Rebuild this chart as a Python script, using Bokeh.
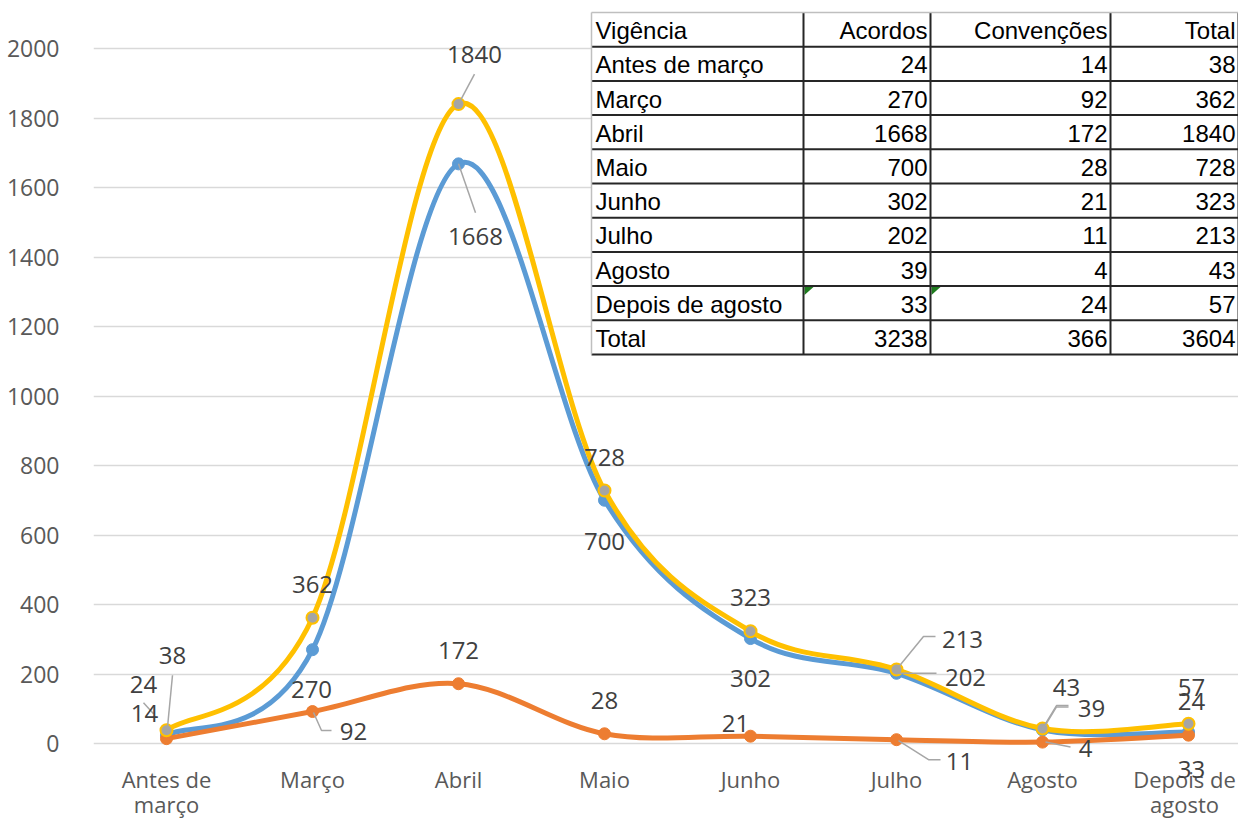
from bokeh.plotting import figure
from bokeh.models import Range1d, FixedTicker
from bokeh.core.properties import value
from bokeh.embed import file_html
from bokeh.resources import INLINE

# ---------------- data ----------------
categories = ["Antes de março", "Março", "Abril", "Maio", "Junho", "Julho", "Agosto", "Depois de agosto"]
tick_labels = ["Antes de\nmarço", "Março", "Abril", "Maio", "Junho", "Julho", "Agosto", "Depois de\nagosto"]
acordos = [24, 270, 1668, 700, 302, 202, 39, 33]
convencoes = [14, 92, 172, 28, 21, 11, 4, 24]
total = [38, 362, 1840, 728, 323, 213, 43, 57]
y_ticks = [0, 200, 400, 600, 800, 1000, 1200, 1400, 1600, 1800, 2000]
table_header = ["Vigência", "Acordos", "Convenções", "Total"]
table_total_label = "Total"

# ---------------- layout / style ----------------
OX, OY = 2, 0           # screen position of the figure's top-left corner
W, H = 1238, 820
Y0PX = 743              # screen y of value 0
Y2000PX = 48            # screen y of value 2000
K = (Y0PX - Y2000PX) / 2000.0
X0PX = 95               # screen x of frame left
SP = 146                # px between categories
FONT = value("Open Sans")
TFONT = value("Liberation Sans")
C_BLUE, C_ORANGE, C_YELLOW, C_GRAY = "#5B9BD5", "#ED7D31", "#FFC000", "#A5A5A5"


def xd(px):
    return -0.5 + (px - X0PX) / SP


def yd(py):
    return (Y0PX - py) / K


p = figure(width=W, height=H, output_backend="svg", toolbar_location=None,
           x_range=Range1d(xd(X0PX), xd(OX + W)), y_range=Range1d(yd(OY + H), yd(OY)),
           x_axis_location=None, min_border_left=X0PX - OX, min_border_right=0,
           min_border_top=0, min_border_bottom=0)
p.outline_line_color = None
p.background_fill_color = "white"
p.border_fill_color = "white"
p.xgrid.visible = False
p.ygrid.ticker = FixedTicker(ticks=y_ticks)
p.ygrid.grid_line_color = "#D9D9D9"
p.ygrid.grid_line_width = 1.5
ax = p.yaxis[0]
ax.ticker = FixedTicker(ticks=y_ticks)
ax.axis_line_color = None
ax.major_tick_line_color = None
ax.minor_tick_line_color = None
ax.major_label_standoff = 28
ax.major_label_text_font = "Open Sans"
ax.major_label_text_font_size = "23px"
ax.major_label_text_color = "#595959"

# x category labels (drawn inside the frame)
xs_idx = list(range(len(categories)))
label_nudge = [0, 0, 0, 0, 0, 0, 0, -4]
p.text(x=[i + n / SP for i, n in zip(xs_idx, label_nudge)], y=[yd(763)] * len(xs_idx),
       text=tick_labels, text_align="center", text_baseline="top", text_font=FONT,
       text_font_size="22px", text_color="#595959", text_line_height=0.85)


# ---------------- smoothed lines ----------------
def smooth(vals, color):
    n = len(vals)
    x0, y0, x1, y1, cx0, cy0, cx1, cy1 = [], [], [], [], [], [], [], []
    for i in range(n - 1):
        im1 = max(i - 1, 0)
        ip2 = min(i + 2, n - 1)
        x0.append(i); y0.append(vals[i])
        x1.append(i + 1); y1.append(vals[i + 1])
        cx0.append(i + (i + 1 - im1) / 6); cy0.append(vals[i] + (vals[i + 1] - vals[im1]) / 6)
        cx1.append(i + 1 - (ip2 - i) / 6); cy1.append(vals[i + 1] - (vals[ip2] - vals[i]) / 6)
    p.bezier(x0=x0, y0=y0, x1=x1, y1=y1, cx0=cx0, cy0=cy0, cx1=cx1, cy1=cy1,
             line_color=color, line_width=5, line_cap="round")


smooth(acordos, C_BLUE)
p.scatter(xs_idx, acordos, size=12, fill_color=C_BLUE, line_color=C_BLUE)
smooth(convencoes, C_ORANGE)
p.scatter(xs_idx, convencoes, size=12, fill_color=C_ORANGE, line_color=C_ORANGE)
smooth(total, C_YELLOW)
p.scatter(xs_idx, total, size=12, fill_color=C_GRAY, line_color=C_YELLOW, line_width=2)

# ---------------- data labels (pixel offsets, screen-down positive) ----------------
total_off = [(6, -75), (0, -33), (16, -50), (0, -33), (0, -34), (66, -30), (24, -41), (3, -36)]
acordos_off = [(-23, -51), (-1, 40), (17, 73), (0, 41), (0, 40), (69, 4), (49, -21), (3, 37)]
conv_off = [(-22, -25), (41, 20), (0, -33), (0, -33), (-15, -13), (63, 22), (43, 6), (3, -34)]

lx, ly, lt = [], [], []
for vals, offs in ((acordos, acordos_off), (convencoes, conv_off), (total, total_off)):
    for i, (v, (dx, dy)) in enumerate(zip(vals, offs)):
        lx.append(i + dx / SP)
        ly.append(v - dy / K)
        lt.append(str(v))

leaders = [
    (total, 0, [(1, -3), (6, -55)]),
    (total, 2, [(0, 0), (16, -30)]),
    (total, 5, [(0, 0), (27, -33), (39, -33)]),
    (total, 6, [(0, 0), (14, -23), (26, -23)]),
    (acordos, 2, [(0, 0), (17, 49)]),
    (acordos, 5, [(0, 0), (40, 0)]),
    (acordos, 6, [(0, 0), (14, -23), (26, -23)]),
    (convencoes, 0, [(-23, -36), (-13, -25)]),
    (convencoes, 1, [(1, 1), (9, 19), (19, 19)]),
    (convencoes, 5, [(2, 1), (32, 20), (44, 20)]),
    (convencoes, 6, [(3, 0), (28, 5)]),
]
mxs, mys = [], []
for vals, i, pts in leaders:
    mxs.append([i + dx / SP for dx, dy in pts])
    mys.append([vals[i] - dy / K for dx, dy in pts])
p.multi_line(xs=mxs, ys=mys, line_color="#A6A6A6", line_width=1.5)

p.text(x=lx, y=ly, text=lt, text_align="center", text_baseline="middle",
       text_font=FONT, text_font_size="24px", text_color="#404040")

# ---------------- table ----------------
col_edges = [593, 805, 932, 1112, 1240]
row_top, row_h = 12, 34.2
rows = [table_header]
for c, a, v, t in zip(categories, acordos, convencoes, total):
    rows.append([c, str(a), str(v), str(t)])
rows.append([table_total_label, str(sum(acordos)), str(sum(convencoes)), str(sum(total))])
n_rows = len(rows)
row_bottom = row_top + row_h * n_rows

p.quad(left=xd(col_edges[0]), right=xd(col_edges[-1]), top=yd(row_top), bottom=yd(row_bottom),
       fill_color="white", line_color=None)

gx = [[xd(e + 1), xd(e + 10), xd(e + 1)] for e in col_edges[1:3]]
gy = [[yd(row_top + row_h * 8 + 1)] * 2 + [yd(row_top + row_h * 8 + 9)] for _ in col_edges[1:3]]
p.patches(xs=gx, ys=gy, fill_color="#1E7B1E", line_color=None)

sx0, sy0, sx1, sy1 = [], [], [], []
for r in range(1, n_rows + 1):
    yy = yd(row_top + row_h * r)
    sx0.append(xd(col_edges[0])); sx1.append(xd(col_edges[-1])); sy0.append(yy); sy1.append(yy)
for e in col_edges[1:]:
    sx0.append(xd(e)); sx1.append(xd(e)); sy0.append(yd(row_top)); sy1.append(yd(row_bottom))
p.segment(x0=sx0, y0=sy0, x1=sx1, y1=sy1, line_color="#262626", line_width=2)
p.segment(x0=[xd(col_edges[0]), xd(col_edges[0])], y0=[yd(row_top), yd(row_top)],
          x1=[xd(col_edges[-1]), xd(col_edges[0])], y1=[yd(row_top), yd(row_bottom)],
          line_color="#BFBFBF", line_width=1.5)

tl_x, tl_y, tl_t = [], [], []
tr_x, tr_y, tr_t = [], [], []
for r, row in enumerate(rows):
    yy = yd(row_top + row_h * (r + 0.5) + 1)
    tl_x.append(xd(col_edges[0] + 4)); tl_y.append(yy); tl_t.append(row[0])
    for c in range(1, 4):
        tr_x.append(xd(col_edges[c + 1] - 3)); tr_y.append(yy); tr_t.append(row[c])
p.text(x=tl_x, y=tl_y, text=tl_t, text_align="left", text_baseline="middle",
       text_font=TFONT, text_font_size="24px", text_color="#000000")
p.text(x=tr_x, y=tr_y, text=tr_t, text_align="right", text_baseline="middle",
       text_font=TFONT, text_font_size="24px", text_color="#000000")

open("out.html", "w").write(file_html(p, INLINE))
